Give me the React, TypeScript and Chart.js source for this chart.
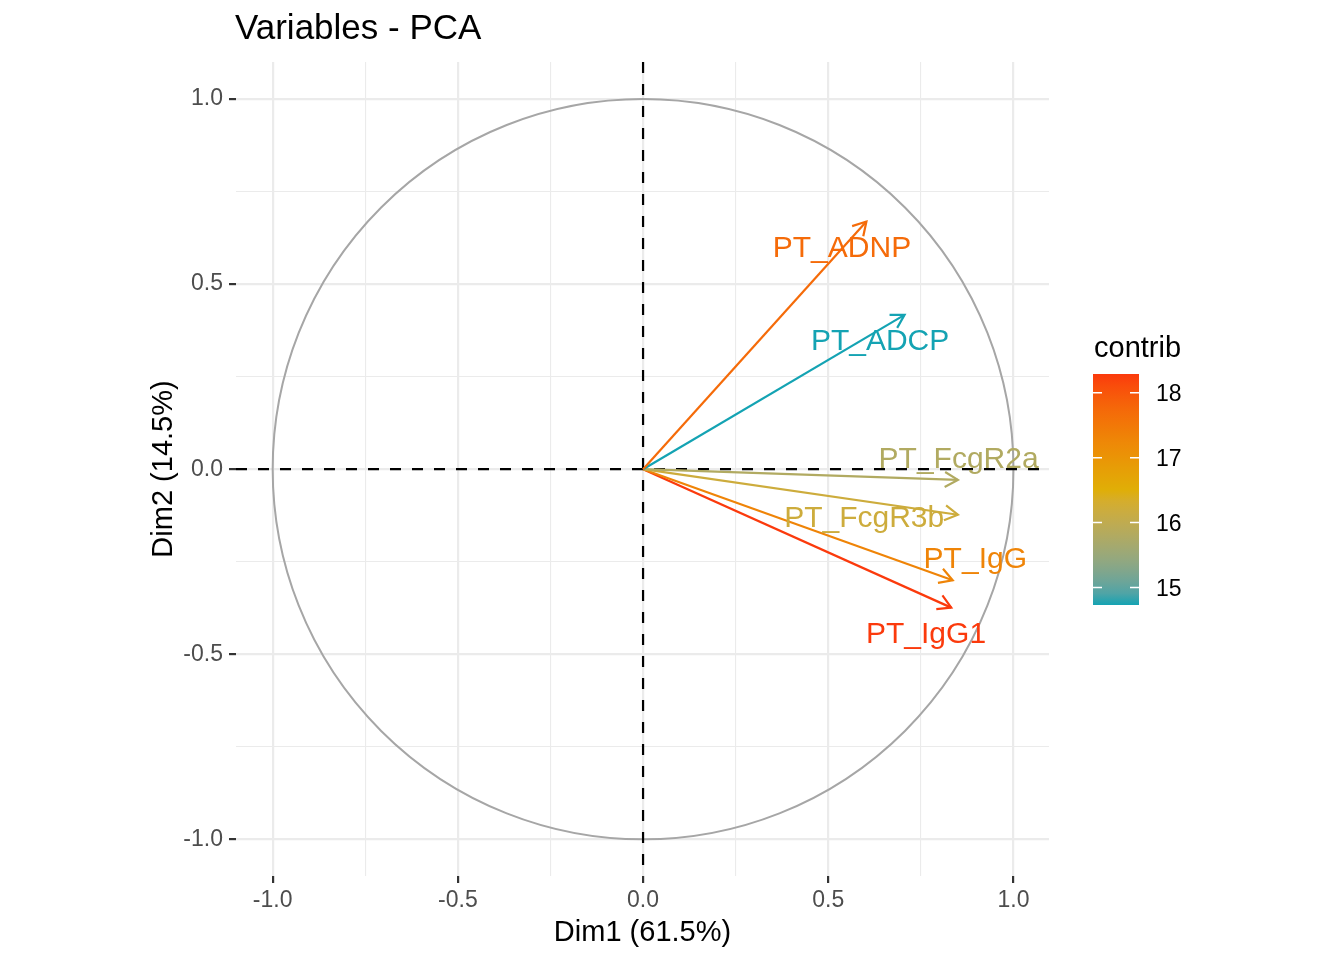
import { useEffect, useRef } from "react";
import { Chart, ChartConfiguration, Plugin, registerables } from "chart.js";

Chart.register(...registerables);

// PCA variable coordinates (Dim1, Dim2) and contributions
const variables = ["PT_ADNP", "PT_ADCP", "PT_FcgR2a", "PT_FcgR3b", "PT_IgG", "PT_IgG1"];
const dim1 = [0.603, 0.706, 0.85, 0.85, 0.836, 0.832];
const dim2 = [0.669, 0.417, -0.029, -0.123, -0.3, -0.374];
const contrib = [17.7, 14.73, 15.8, 16.2, 17.3, 18.29];
// where each label sits (data units, repelled from the arrow tip)
const labelX = [0.537, 0.64, 0.852, 0.597, 0.897, 0.764];
const labelY = [0.602, 0.351, 0.032, -0.128, -0.239, -0.441];

const axisTicks = [-1, -0.75, -0.5, -0.25, 0, 0.25, 0.5, 0.75, 1];
const axisLabels = ["-1.0", "", "-0.5", "", "0.0", "", "0.5", "", "1.0"];
const contribTicks = [15, 16, 17, 18];
const gradientCols = ["#14A3B3", "#E0AE06", "#FB3A0C"];

const FONT = "'Liberation Sans', Arial, Helvetica, sans-serif";

function hexToLab(hex: string) {
  const n = parseInt(hex.slice(1), 16);
  const [r, g, b] = [(n >> 16) & 255, (n >> 8) & 255, n & 255].map((c) => {
    c /= 255;
    return c <= 0.04045 ? c / 12.92 : Math.pow((c + 0.055) / 1.055, 2.4);
  });
  const X = (0.4124 * r + 0.3576 * g + 0.1805 * b) / 0.95047;
  const Y = 0.2126 * r + 0.7152 * g + 0.0722 * b;
  const Z = (0.0193 * r + 0.1192 * g + 0.9505 * b) / 1.08883;
  const f = (t: number) => (t > 0.008856 ? Math.cbrt(t) : 7.787 * t + 16 / 116);
  return [116 * f(Y) - 16, 500 * (f(X) - f(Y)), 200 * (f(Y) - f(Z))];
}

function labToRgb([L, a, b]: number[]) {
  const fy = (L + 16) / 116;
  const fx = fy + a / 500;
  const fz = fy - b / 200;
  const inv = (t: number) => (t ** 3 > 0.008856 ? t ** 3 : (t - 16 / 116) / 7.787);
  const X = inv(fx) * 0.95047;
  const Y = inv(fy);
  const Z = inv(fz) * 1.08883;
  const r = 3.2406 * X - 1.5372 * Y - 0.4986 * Z;
  const g = -0.9689 * X + 1.8758 * Y + 0.0415 * Z;
  const bl = 0.0557 * X - 0.204 * Y + 1.057 * Z;
  const gam = (c: number) => {
    c = c <= 0.0031308 ? 12.92 * c : 1.055 * Math.pow(c, 1 / 2.4) - 0.055;
    return Math.round(Math.min(1, Math.max(0, c)) * 255);
  };
  return `rgb(${gam(r)},${gam(g)},${gam(bl)})`;
}

const labs = gradientCols.map(hexToLab);
function gradientColor(t: number) {
  t = Math.min(1, Math.max(0, t));
  const seg = t < 0.5 ? 0 : 1;
  const u = t < 0.5 ? t * 2 : (t - 0.5) * 2;
  const a = labs[seg];
  const b = labs[seg + 1];
  return labToRgb(a.map((v, k) => v + (b[k] - v) * u));
}

const cMin = Math.min(...contrib);
const cMax = Math.max(...contrib);
const colors = contrib.map((c) => gradientColor((c - cMin) / (cMax - cMin)));

const isMajor = (v: number) => Math.abs(v * 2 - Math.round(v * 2)) < 1e-6;

const pcaPlugin: Plugin = {
  id: "pcaDecor",
  beforeDatasetsDraw(chart) {
    const { ctx, chartArea } = chart;
    const xs = chart.scales.x;
    const ys = chart.scales.y;
    ctx.save();
    // correlation circle
    const cx = xs.getPixelForValue(0);
    const cy = ys.getPixelForValue(0);
    const rx = xs.getPixelForValue(1) - cx;
    const ry = cy - ys.getPixelForValue(1);
    ctx.strokeStyle = "#A6A6A6";
    ctx.lineWidth = 2;
    ctx.beginPath();
    ctx.ellipse(cx, cy, rx, ry, 0, 0, Math.PI * 2);
    ctx.stroke();
    // dashed zero lines
    ctx.strokeStyle = "#000";
    ctx.lineWidth = 2.2;
    ctx.setLineDash([11, 11]);
    ctx.beginPath();
    ctx.moveTo(chartArea.left, cy);
    ctx.lineTo(chartArea.right, cy);
    ctx.moveTo(cx, chartArea.top);
    ctx.lineTo(cx, chartArea.bottom);
    ctx.stroke();
    ctx.restore();
  },
  afterDatasetsDraw(chart) {
    const { ctx } = chart;
    const xs = chart.scales.x;
    const ys = chart.scales.y;
    ctx.save();
    const x0 = xs.getPixelForValue(0);
    const y0 = ys.getPixelForValue(0);
    variables.forEach((name, i) => {
      const tx = xs.getPixelForValue(dim1[i]);
      const ty = ys.getPixelForValue(dim2[i]);
      const ang = Math.atan2(ty - y0, tx - x0);
      const len = 15;
      ctx.strokeStyle = colors[i];
      ctx.lineWidth = 2.2;
      ctx.lineCap = "butt";
      ctx.beginPath();
      ctx.moveTo(tx - len * Math.cos(ang - Math.PI / 6), ty - len * Math.sin(ang - Math.PI / 6));
      ctx.lineTo(tx, ty);
      ctx.lineTo(tx - len * Math.cos(ang + Math.PI / 6), ty - len * Math.sin(ang + Math.PI / 6));
      ctx.stroke();
      // label
      ctx.fillStyle = colors[i];
      ctx.font = `30px ${FONT}`;
      ctx.textAlign = "center";
      ctx.textBaseline = "alphabetic";
      ctx.fillText(name, xs.getPixelForValue(labelX[i]), ys.getPixelForValue(labelY[i]) + 10.8);
    });
    ctx.restore();
  },
  afterDraw(chart) {
    const { ctx, chartArea } = chart;
    ctx.save();
    // title
    ctx.fillStyle = "#000";
    ctx.font = `35px ${FONT}`;
    ctx.textAlign = "left";
    ctx.textBaseline = "alphabetic";
    ctx.fillText("Variables - PCA", 235, 39);
    // axis titles
    ctx.font = `29px ${FONT}`;
    ctx.textAlign = "center";
    ctx.fillText("Dim1 (61.5%)", (chartArea.left + chartArea.right) / 2, 941);
    ctx.save();
    ctx.translate(172, (chartArea.top + chartArea.bottom) / 2);
    ctx.rotate(-Math.PI / 2);
    ctx.fillText("Dim2 (14.5%)", 0, 0);
    ctx.restore();

    // colour bar legend
    const barL = 1093;
    const barR = 1139;
    const barT = 374;
    const barB = 605;
    ctx.textAlign = "left";
    ctx.fillText("contrib", 1094, 357);
    const grad = ctx.createLinearGradient(0, barB, 0, barT);
    for (let k = 0; k <= 20; k++) grad.addColorStop(k / 20, gradientColor(k / 20));
    ctx.fillStyle = grad;
    ctx.fillRect(barL, barT, barR - barL, barB - barT);
    ctx.font = `23px ${FONT}`;
    contribTicks.forEach((v) => {
      const y = barB - ((v - cMin) / (cMax - cMin)) * (barB - barT);
      ctx.strokeStyle = "#fff";
      ctx.lineWidth = 1.5;
      ctx.beginPath();
      ctx.moveTo(barL, y);
      ctx.lineTo(barL + 9, y);
      ctx.moveTo(barR - 9, y);
      ctx.lineTo(barR, y);
      ctx.stroke();
      ctx.fillStyle = "#000";
      ctx.fillText(String(v), 1156, y + 8.3);
    });
    ctx.restore();
  },
};

const gridOpts = {
  color: "#EBEBEB",
  lineWidth: (c: any) => (c.tick && isMajor(c.tick.value) ? 2.2 : 1.1),
  tickColor: (c: any) => (c.tick && isMajor(c.tick.value) ? "#333333" : "rgba(0,0,0,0)"),
  tickWidth: 2.2,
  tickLength: 7,
  drawTicks: true,
};

const tickFont = { family: FONT, size: 23 };

export default function App() {
  const chartRef = useRef<HTMLCanvasElement>(null);
  const chartInstance = useRef<Chart | null>(null);

  useEffect(() => {
    document.body.style.margin = "0";
    if (!chartRef.current) return;
    if (chartInstance.current) chartInstance.current.destroy();
    const ctx = chartRef.current.getContext("2d");
    if (!ctx) return;

    const config: ChartConfiguration = {
      type: "line",
      data: {
        datasets: variables.map((v, i) => ({
          label: v,
          data: [
            { x: 0, y: 0 },
            { x: dim1[i], y: dim2[i] },
          ],
          borderColor: colors[i],
          borderWidth: 2.2,
          pointRadius: 0,
          fill: false,
          tension: 0,
        })),
      },
      options: {
        animation: false,
        responsive: true,
        maintainAspectRatio: false,
        layout: { padding: { top: 62, right: 295, left: 0, bottom: 0 } },
        plugins: {
          legend: { display: false },
          tooltip: { enabled: false },
        },
        scales: {
          x: {
            type: "linear",
            min: -1.099,
            max: 1.096,
            afterBuildTicks: (s: any) => {
              s.ticks = axisTicks.map((v) => ({ value: v }));
            },
            afterFit: (s: any) => {
              s.height = 84;
            },
            grid: gridOpts as any,
            border: { display: false },
            ticks: {
              autoSkip: false,
              maxRotation: 0,
              padding: 4,
              color: "#4D4D4D",
              font: tickFont,
              callback: (v: any) => axisLabels[axisTicks.indexOf(Number(v))] ?? "",
            },
          },
          y: {
            type: "linear",
            min: -1.099,
            max: 1.1,
            afterBuildTicks: (s: any) => {
              s.ticks = axisTicks.map((v) => ({ value: v }));
            },
            afterFit: (s: any) => {
              s.width = 236;
            },
            grid: gridOpts as any,
            border: { display: false },
            ticks: {
              autoSkip: false,
              padding: 6,
              color: "#4D4D4D",
              font: tickFont,
              callback: (v: any) => axisLabels[axisTicks.indexOf(Number(v))] ?? "",
            },
          },
        },
      },
      plugins: [pcaPlugin],
    };

    chartInstance.current = new Chart(ctx, config);

    return () => {
      if (chartInstance.current) {
        chartInstance.current.destroy();
        chartInstance.current = null;
      }
    };
  }, []);

  return (
    <div style={{ width: 1344, height: 960, position: "relative", background: "#fff" }}>
      <canvas ref={chartRef} />
    </div>
  );
}
